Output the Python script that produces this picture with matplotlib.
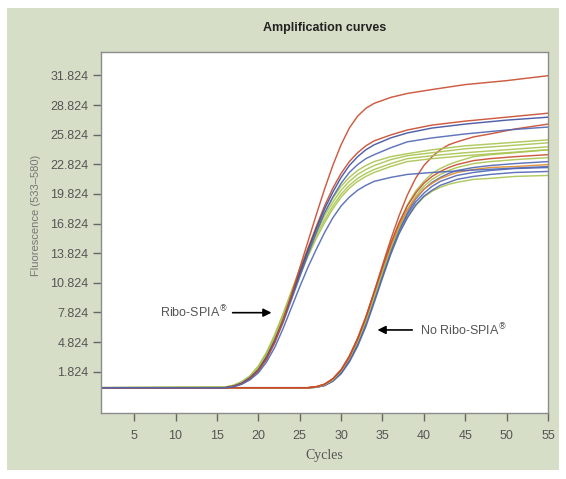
import matplotlib
matplotlib.use("Agg")
import matplotlib.pyplot as plt
from matplotlib.patches import Rectangle

# --- Data ---
# cycle grids (denser where the curves rise)
cycles_ribo = [1, 16, 17, 18, 19, 20, 21, 22, 23, 24, 25, 26, 27, 28, 29, 30,
               31, 32, 33, 34, 36, 38, 41, 45, 50, 55]
cycles_noribo = [1, 26, 27, 28, 29, 30, 31, 32, 33, 34, 35, 36, 37, 38, 39,
                 40, 41, 42, 43, 44, 46, 48, 51, 55]

# Ribo-SPIA amplified samples (left group)
ribo_red_top = [0.2, 0.2, 0.35, 0.6, 1.1, 1.9, 3.1, 4.8, 7.0, 9.6, 12.3, 15.0, 17.7,
                20.3, 22.7, 24.8, 26.5, 27.7, 28.5, 29.0, 29.6, 30.0, 30.4, 30.9, 31.3, 31.8]
ribo_red_2 = [0.2, 0.2, 0.35, 0.65, 1.2, 2.0, 3.3, 5.0, 7.1, 9.5, 11.9, 14.3, 16.5,
              18.6, 20.4, 21.9, 23.1, 24.0, 24.7, 25.2, 25.8, 26.3, 26.8, 27.2, 27.6, 28.0]
ribo_blue_1 = [0.2, 0.2, 0.35, 0.65, 1.2, 2.0, 3.3, 5.0, 7.0, 9.4, 11.8, 14.1, 16.3,
               18.3, 20.0, 21.5, 22.7, 23.6, 24.3, 24.8, 25.5, 26.0, 26.5, 26.9, 27.3, 27.6]
ribo_blue_2 = [0.2, 0.2, 0.3, 0.6, 1.1, 1.9, 3.1, 4.8, 6.8, 9.1, 11.4, 13.7, 15.9,
               17.9, 19.5, 20.9, 22.0, 22.8, 23.4, 23.8, 24.5, 25.1, 25.5, 25.9, 26.3, 26.6]
ribo_green_1 = [0.2, 0.25, 0.45, 0.8, 1.4, 2.4, 3.8, 5.6, 7.7, 10.0, 12.2, 14.3, 16.2,
                17.9, 19.4, 20.6, 21.5, 22.2, 22.7, 23.1, 23.6, 23.9, 24.3, 24.7, 25.0, 25.3]
ribo_green_2 = [0.2, 0.25, 0.45, 0.8, 1.4, 2.3, 3.7, 5.5, 7.6, 9.8, 12.0, 14.0, 15.9,
                17.6, 19.0, 20.2, 21.1, 21.8, 22.3, 22.7, 23.3, 23.7, 24.0, 24.4, 24.7, 25.0]
ribo_green_3 = [0.2, 0.25, 0.4, 0.75, 1.3, 2.2, 3.6, 5.3, 7.4, 9.6, 11.7, 13.7, 15.6,
                17.2, 18.6, 19.8, 20.7, 21.4, 21.9, 22.3, 22.9, 23.4, 23.7, 24.0, 24.3, 24.6]
ribo_green_4 = [0.2, 0.25, 0.4, 0.75, 1.3, 2.2, 3.5, 5.2, 7.2, 9.4, 11.5, 13.5, 15.3,
                16.9, 18.3, 19.5, 20.4, 21.1, 21.6, 22.0, 22.6, 23.1, 23.4, 23.7, 24.0, 24.3]
ribo_blue_low = [0.2, 0.2, 0.3, 0.55, 1.0, 1.7, 2.8, 4.3, 6.2, 8.3, 10.4, 12.4, 14.2,
                 15.9, 17.4, 18.6, 19.5, 20.2, 20.7, 21.1, 21.5, 21.8, 22.0, 22.2, 22.4, 22.6]

# samples without Ribo-SPIA (right group)
noribo_green_1 = [0.2, 0.2, 0.25, 0.5, 1.0, 1.9, 3.2, 4.9, 7.0, 9.5, 12.1, 14.6, 16.8,
                  18.7, 20.1, 21.1, 21.9, 22.4, 22.8, 23.1, 23.6, 23.8, 24.0, 24.3]
noribo_red_1 = [0.2, 0.2, 0.3, 0.55, 1.1, 2.0, 3.4, 5.2, 7.4, 9.9, 12.4, 14.8, 16.9,
                18.6, 19.9, 20.9, 21.6, 22.1, 22.5, 22.8, 23.2, 23.4, 23.6, 23.8]
noribo_green_2 = [0.2, 0.2, 0.25, 0.5, 1.0, 1.9, 3.2, 4.9, 7.0, 9.4, 11.9, 14.3, 16.4,
                  18.2, 19.6, 20.6, 21.3, 21.8, 22.2, 22.5, 22.9, 23.1, 23.3, 23.5]
noribo_blue_1 = [0.2, 0.2, 0.25, 0.45, 0.9, 1.8, 3.0, 4.7, 6.8, 9.2, 11.7, 14.1, 16.2,
                 17.9, 19.3, 20.3, 21.0, 21.5, 21.9, 22.2, 22.5, 22.7, 22.9, 23.1]
noribo_orange = [0.2, 0.2, 0.3, 0.55, 1.1, 2.0, 3.4, 5.2, 7.3, 9.8, 12.3, 14.6, 16.6,
                 18.2, 19.4, 20.3, 20.9, 21.4, 21.7, 22.0, 22.3, 22.5, 22.6, 22.8]
noribo_blue_2 = [0.2, 0.2, 0.25, 0.45, 0.9, 1.7, 2.9, 4.6, 6.7, 9.1, 11.6, 14.0, 16.1,
                 17.7, 19.0, 19.9, 20.6, 21.1, 21.4, 21.7, 22.0, 22.2, 22.4, 22.5]
noribo_blue_3 = [0.2, 0.2, 0.25, 0.4, 0.85, 1.6, 2.8, 4.4, 6.4, 8.8, 11.3, 13.7, 15.8,
                 17.4, 18.7, 19.6, 20.2, 20.7, 21.0, 21.3, 21.6, 21.8, 22.0, 22.1]
noribo_green_3 = [0.2, 0.2, 0.25, 0.45, 0.9, 1.7, 2.9, 4.5, 6.6, 9.0, 11.4, 13.8, 15.8,
                  17.4, 18.6, 19.5, 20.1, 20.5, 20.8, 21.0, 21.3, 21.4, 21.6, 21.7]
noribo_red_steep = [0.2, 0.2, 0.3, 0.55, 1.1, 2.0, 3.3, 5.1, 7.3, 9.9, 12.6, 15.2, 17.6,
                    19.7, 21.4, 22.7, 23.6, 24.3, 24.8, 25.1, 25.6, 25.9, 26.4, 26.9]

x_ticks = [5, 10, 15, 20, 25, 30, 35, 40, 45, 50, 55]
y_ticks = [1.824, 4.824, 7.824, 10.824, 13.824, 16.824, 19.824,
           22.824, 25.824, 28.824, 31.824]
y_tick_labels = ["1.824", "4.824", "7.824", "10.824", "13.824", "16.824",
                 "19.824", "22.824", "25.824", "28.824", "31.824"]

RED = "#c84a2e"
BLUE = "#4f66b3"
GREEN = "#a8c550"
ORANGE = "#e08a2c"
PANEL = "#d7dec7"

plt.rcParams['font.family'] = ['Liberation Sans', 'DejaVu Sans']

fig = plt.figure(figsize=(5.66, 4.79), dpi=100)
fig.patch.set_facecolor("white")
# green panel behind everything
fig.patches.append(Rectangle((7 / 566, 9 / 479), 552 / 566, 462 / 479,
                             transform=fig.transFigure, facecolor=PANEL,
                             edgecolor="none", zorder=-10))

ax = fig.add_axes([101 / 566, 66 / 479, 447 / 566, 361 / 479])
ax.set_facecolor("white")

lw = 1.05
# right group first, so the left group's blue baseline sits on top at the start
noribo_curves = [
    (noribo_green_3, GREEN), (noribo_blue_3, BLUE), (noribo_blue_2, BLUE),
    (noribo_blue_1, BLUE), (noribo_green_2, GREEN), (noribo_green_1, GREEN),
    (noribo_orange, ORANGE), (noribo_red_1, RED), (noribo_red_steep, RED),
]
for vals, col in noribo_curves:
    ax.plot(cycles_noribo, vals, color=col, lw=lw, alpha=0.9)

ribo_curves = [
    (ribo_green_4, GREEN), (ribo_green_3, GREEN), (ribo_green_2, GREEN),
    (ribo_green_1, GREEN), (ribo_blue_2, BLUE), (ribo_red_2, RED),
    (ribo_blue_1, "#3e4f9e"), (ribo_red_top, RED), (ribo_blue_low, BLUE),
]
for vals, col in ribo_curves:
    ax.plot(cycles_ribo, vals, color=col, lw=lw, alpha=0.9)

ax.set_xlim(1, 55)
ax.set_ylim(-2.36, 34.2)

ax.set_xticks(x_ticks)
ax.set_xticklabels([str(t) for t in x_ticks])
ax.set_yticks(y_ticks)
ax.set_yticklabels(y_tick_labels)
ax.tick_params(axis="both", direction="out", length=6, width=1.0,
               color="#666666", labelcolor="#555555", labelsize=9)
ax.tick_params(axis="x", pad=6)
ax.tick_params(axis="y", pad=3)

for side in ["top", "right", "bottom", "left"]:
    ax.spines[side].set_color("#8c8c8c")
    ax.spines[side].set_linewidth(1.0)

ax.set_xlabel("Cycles", family="Liberation Serif", fontsize=10,
              color="#555555", labelpad=5)
ax.set_ylabel("Fluorescence (533\u2013580)", fontsize=8, color="#777777")
ax.yaxis.set_label_coords(-0.134, 0.548)

fig.text(325 / 566, 1 - 28 / 479, "Amplification curves", ha="center",
         va="center", fontsize=9, fontweight="bold", color="#222222")

# arrows pointing at the two groups
ax.annotate("", xy=(21.6, 7.8), xytext=(16.9, 7.8),
            arrowprops=dict(arrowstyle="-|>", color="black", lw=1.2,
                            mutation_scale=12, shrinkA=0, shrinkB=0))
ax.text(16.3, 7.8, "Ribo-SPIA$^{\u00ae}$", ha="right", va="center",
        fontsize=9, color="#555555")
ax.annotate("", xy=(34.4, 6.05), xytext=(38.6, 6.05),
            arrowprops=dict(arrowstyle="-|>", color="black", lw=1.2,
                            mutation_scale=12, shrinkA=0, shrinkB=0))
ax.text(39.5, 6.05, "No Ribo-SPIA$^{\u00ae}$", ha="left", va="center",
        fontsize=9, color="#555555")

fig.savefig("out.png", dpi=100)
